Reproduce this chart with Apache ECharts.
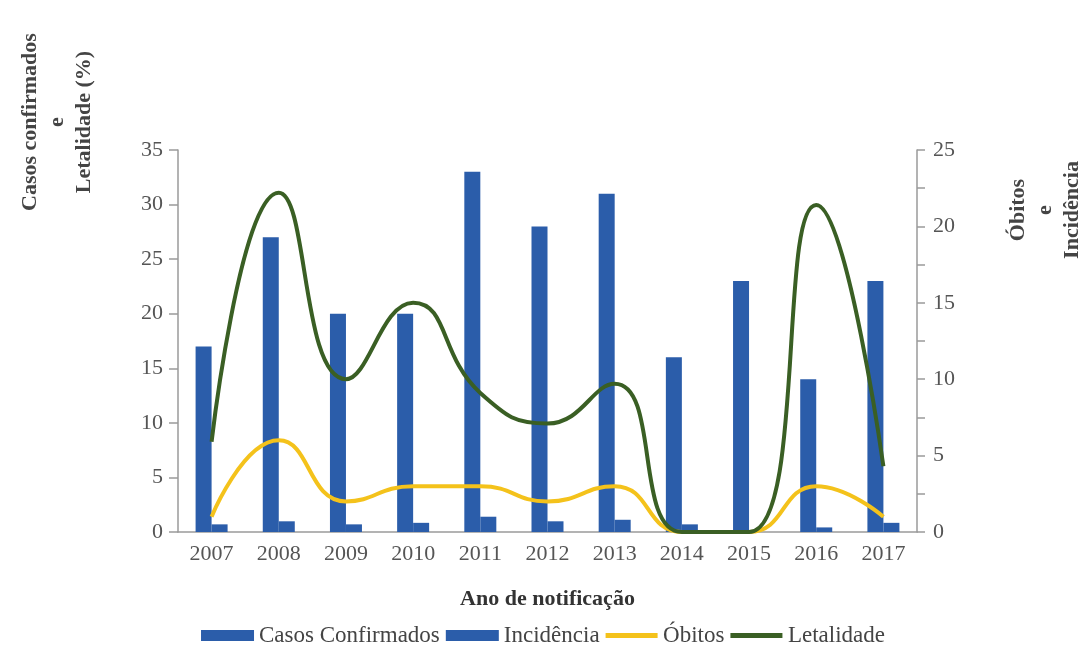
<!DOCTYPE html>
<html>
<head>
<meta charset="utf-8">
<script src="https://cdn.jsdelivr.net/npm/echarts@6/dist/echarts.min.js"></script>
<style>
html,body{margin:0;padding:0;background:#fff;}
#chart{width:1086px;height:649px;}
</style>
</head>
<body>
<div id="chart"></div>
<script>
const years = ['2007','2008','2009','2010','2011','2012','2013','2014','2015','2016','2017'];
const casosConfirmados = [17, 27, 20, 20, 33, 28, 31, 16, 23, 14, 23];
const incidencia = [0.5, 0.7, 0.5, 0.6, 1.0, 0.7, 0.8, 0.5, 0, 0.3, 0.6];
const obitos = [1, 6, 2, 3, 3, 2, 3, 0, 0, 3, 1];
const letalidade = [5.9, 22.2, 10.0, 15.0, 9.1, 7.1, 9.7, 0, 0, 21.4, 4.3];
const leftTicks = { min: 0, max: 35, interval: 5 };
const rightTicks = { min: 0, max: 25, interval: 5 };

const BLUE = '#2B5DAA';
const YELLOW = '#F4C21B';
const GREEN = '#3A5F24';
const AXIS = '#9a9a9a';
const LABEL = '#555555';
const SERIF = '"Liberation Serif", "DejaVu Serif", serif';
const THIN_BAR = 'path://M0,0L0.01,0M0,3L52,3L52,8L0,8ZM52,11L51.99,11';

const chart = echarts.init(document.getElementById('chart'));
chart.setOption({
  backgroundColor: '#ffffff',
  animation: false,
  textStyle: { fontFamily: SERIF },
  grid: { left: 178, right: 169, top: 150, bottom: 117, containLabel: false },
  legend: {
    bottom: -3,
    left: 'center',
    itemGap: 6,
    itemWidth: 53,
    itemHeight: 11,
    textStyle: { fontFamily: SERIF, fontSize: 23, color: '#444' },
    data: [
      { name: 'Casos Confirmados', icon: 'rect' },
      { name: 'Incidência', icon: 'rect' },
      { name: 'Óbitos', icon: THIN_BAR },
      { name: 'Letalidade', icon: THIN_BAR }
    ]
  },
  xAxis: {
    type: 'category',
    data: years,
    boundaryGap: true,
    name: 'Ano de notificação',
    nameLocation: 'middle',
    nameGap: 56,
    nameTextStyle: { fontFamily: SERIF, fontSize: 22, fontWeight: 'bold', color: '#333' },
    axisLine: { lineStyle: { color: AXIS, width: 1.5 } },
    axisTick: { show: false },
    axisLabel: { fontFamily: SERIF, fontSize: 22, color: LABEL, margin: 11 }
  },
  yAxis: [
    {
      type: 'value',
      min: leftTicks.min, max: leftTicks.max, interval: leftTicks.interval,
      position: 'left',
      axisLine: { show: true, lineStyle: { color: AXIS, width: 1.5 } },
      axisTick: { show: true, length: 9, lineStyle: { color: AXIS, width: 1.5 } },
      axisLabel: { fontFamily: SERIF, fontSize: 22, color: LABEL, margin: 15 },
      splitLine: { show: false }
    },
    {
      type: 'value',
      min: rightTicks.min, max: rightTicks.max, interval: rightTicks.interval,
      position: 'right',
      axisLine: { show: true, lineStyle: { color: AXIS, width: 1.5 } },
      axisTick: { show: true, length: 8, lineStyle: { color: AXIS, width: 1.5 } },
      minorTick: { show: true, splitNumber: 2, length: 8, lineStyle: { color: AXIS, width: 1.5 } },
      axisLabel: { fontFamily: SERIF, fontSize: 22, color: LABEL, margin: 16 },
      splitLine: { show: false },
      minorSplitLine: { show: false }
    }
  ],
  series: [
    {
      name: 'Casos Confirmados', type: 'bar', yAxisIndex: 0,
      data: casosConfirmados, barWidth: 16, barGap: '0%',
      itemStyle: { color: BLUE }
    },
    {
      name: 'Incidência', type: 'bar', yAxisIndex: 1,
      data: incidencia, barWidth: 16, barGap: '0%',
      itemStyle: { color: BLUE }
    },
    {
      name: 'Óbitos', type: 'line', yAxisIndex: 1,
      data: obitos, smooth: 0.5, symbol: 'none',
      lineStyle: { color: YELLOW, width: 4 },
      itemStyle: { color: YELLOW },
      z: 3
    },
    {
      name: 'Letalidade', type: 'line', yAxisIndex: 1,
      data: letalidade, smooth: 0.5, symbol: 'none',
      lineStyle: { color: GREEN, width: 4 },
      itemStyle: { color: GREEN },
      z: 3
    }
  ],
  graphic: [
    {
      type: 'text', x: 57, y: 122, rotation: Math.PI / 2,
      style: {
        text: 'Casos confirmados\ne\nLetalidade (%)',
        font: 'bold 22px ' + SERIF, fill: '#444',
        align: 'center', verticalAlign: 'middle', lineHeight: 27
      }
    },
    {
      type: 'text', x: 1045, y: 210, rotation: Math.PI / 2,
      style: {
        text: 'Óbitos\ne\nIncidência',
        font: 'bold 22px ' + SERIF, fill: '#444',
        align: 'center', verticalAlign: 'middle', lineHeight: 27
      }
    }
  ]
});
</script>
</body>
</html>
